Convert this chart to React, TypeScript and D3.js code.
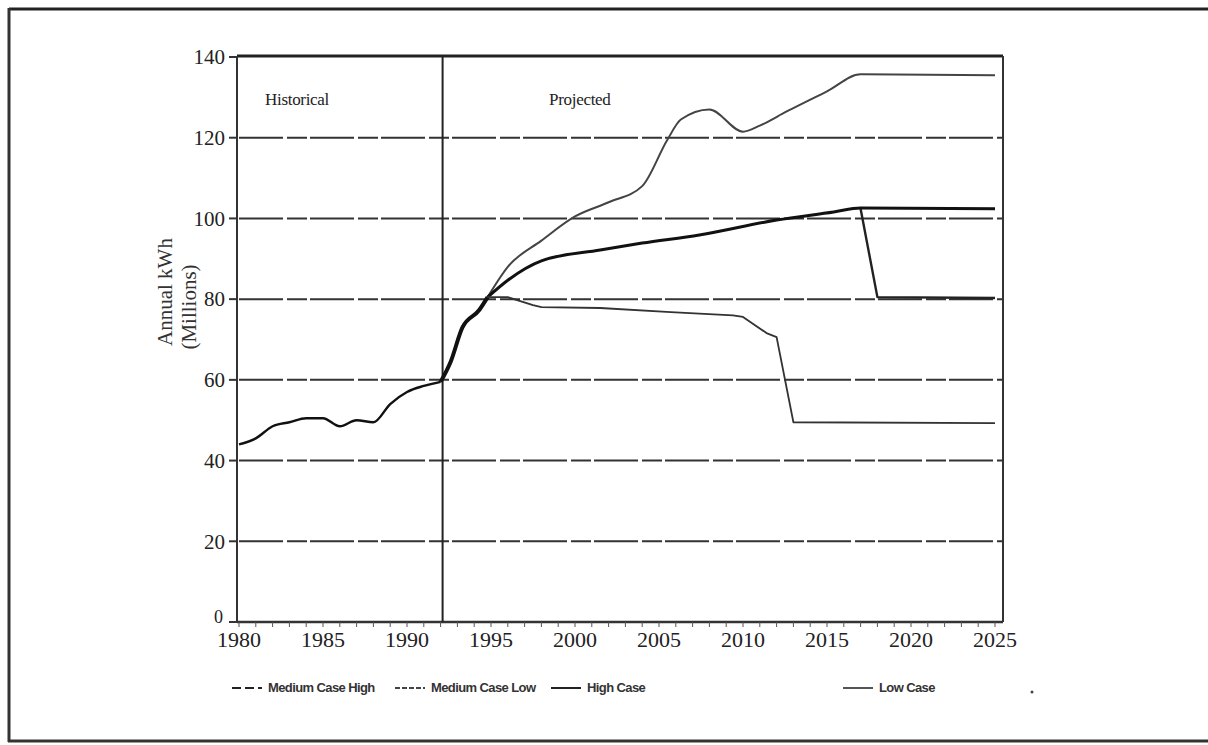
import React from "react";
import * as d3 from "d3";

const histYears = [1980, 1981, 1982, 1983, 1984, 1985, 1986, 1987, 1988, 1989, 1990, 1991, 1992];
const histValues = [44, 45.5, 48.5, 49.5, 50.5, 50.5, 48.5, 50, 49.5, 54, 57, 58.5, 59.5];

const commonYears = [1992, 1992.6, 1993.3, 1994.3, 1994.8];
const commonValues = [59.5, 64.5, 73, 77.3, 80.5];

const highYears = [1996, 1998, 2000, 2002, 2004, 2005.5, 2006.3, 2008, 2010, 2011, 2012.6, 2015, 2017, 2025];
const highValues = [88, 94.5, 100.5, 104, 108, 119.5, 124.5, 127, 121.5, 123, 126.5, 131.5, 135.7, 135.5];

const medHighYears = [1996, 1998, 2001.5, 2004, 2007.4, 2012, 2015.4, 2017, 2025];
const medHighValues = [84.7, 89.5, 92.2, 93.9, 95.9, 99.6, 101.6, 102.6, 102.4];

const medLowYears = [2017, 2018, 2025];
const medLowValues = [102.4, 80.5, 80.3];

const lowYears = [1996, 1997.5, 1998, 2001.5, 2005.7, 2009.4, 2010, 2011.4, 2012, 2013, 2025];
const lowValues = [80.5, 78.5, 78, 77.8, 76.8, 76, 75.6, 71.6, 70.6, 49.5, 49.3];

const yTicks = [0, 20, 40, 60, 80, 100, 120, 140];
const xTicks = [1980, 1985, 1990, 1995, 2000, 2005, 2010, 2015, 2020, 2025];
const legendItems = ["Medium Case High", "Medium Case Low", "High Case", "Low Case"];

export default function App() {
  const left = 239, right = 1003, top = 56, bottom = 622;
  const x = d3.scaleLinear().domain([1980, 2025]).range([left, left + 45 * 16.8]);
  const y = d3.scaleLinear().domain([0, 140]).range([bottom, top + 1]);
  const line = d3.line<[number, number]>().x(d => x(d[0])).y(d => y(d[1])).curve(d3.curveMonotoneX);
  const straight = d3.line<[number, number]>().x(d => x(d[0])).y(d => y(d[1]));
  const zip = (a: number[], b: number[]) => a.map((v, i) => [v, b[i]] as [number, number]);
  const cLast = commonYears.length - 1;
  const common = zip(commonYears, commonValues);
  const lastC: [number, number] = [commonYears[cLast], commonValues[cLast]];

  const serif = "'Liberation Serif', 'DejaVu Serif', serif";
  const sans = "'Liberation Sans', Arial, sans-serif";

  const legendX = [232, 395, 551, 843];
  const legendDash = ["9,4", "5,2", "none", "none"];
  const legendColor = ["#222", "#444", "#222", "#555"];

  return (
    <svg width={1208} height={745} style={{ position: "absolute", left: 0, top: 0, background: "#fff" }}>
      {/* outer frame */}
      <line x1={9} y1={9} x2={1208} y2={9} stroke="#222" strokeWidth={3} />
      <line x1={9} y1={8} x2={9} y2={742} stroke="#333" strokeWidth={3} />
      <line x1={8} y1={741} x2={1208} y2={741} stroke="#333" strokeWidth={3} />

      {/* gridlines */}
      {yTicks.filter(t => t > 0 && t < 140).map(t => (
        <line key={t} x1={left} x2={right} y1={y(t)} y2={y(t)} stroke="#333" strokeWidth={2} strokeDasharray="44,4,20,3" />
      ))}
      {/* plot frame */}
      <line x1={left - 2} x2={right} y1={top} y2={top} stroke="#222" strokeWidth={3} />
      <line x1={left - 2} x2={right} y1={bottom} y2={bottom} stroke="#333" strokeWidth={2.5} />
      <line x1={left - 2} x2={left - 2} y1={top} y2={bottom} stroke="#333" strokeWidth={2} />
      <line x1={right} x2={right} y1={top} y2={bottom} stroke="#333" strokeWidth={2} />
      <line x1={x(1992) + 2} x2={x(1992) + 2} y1={top} y2={bottom} stroke="#222" strokeWidth={2} />

      {/* y ticks */}
      {yTicks.map(t => (
        <g key={t}>
          <line x1={left - 10} x2={left - 2} y1={y(t)} y2={y(t)} stroke="#333" strokeWidth={2} />
          <text x={left - (t === 0 ? 16 : 14)} y={y(t) - (t === 0 ? 5 : 0)} dy="0.35em" textAnchor="end" fontFamily={serif} fontSize={t === 0 ? 18 : 21} fill="#222">{t}</text>
        </g>
      ))}
      {/* x minor ticks */}
      {d3.range(1980, 2026).map(yr => (
        <line key={yr} x1={x(yr)} x2={x(yr)} y1={bottom} y2={bottom + 5} stroke="#555" strokeWidth={1} />
      ))}
      {xTicks.map(t => (
        <text key={t} x={x(t)} y={bottom + 25} textAnchor="middle" fontFamily={serif} fontSize={22} fill="#222">{t}</text>
      ))}

      {/* axis title */}
      <text transform={`translate(172,292) rotate(-90)`} textAnchor="middle" fontFamily={serif} fontSize={21} fill="#333">Annual kWh</text>
      <text transform={`translate(196,307) rotate(-90)`} textAnchor="middle" fontFamily={serif} fontSize={21} fill="#333">(Millions)</text>

      <text x={265} y={105} fontFamily={serif} fontSize={17} fill="#222" letterSpacing={-0.3}>Historical</text>
      <text x={549} y={105} fontFamily={serif} fontSize={17} fill="#222" letterSpacing={-0.3}>Projected</text>

      {/* series */}
      <g fill="none" strokeLinejoin="round">
        <path d={line(zip(histYears, histValues)) || ""} stroke="#111" strokeWidth={2.4} />
        <path d={line(common) || ""} stroke="#111" strokeWidth={4} />
        <path d={line([lastC, ...zip(highYears, highValues)]) || ""} stroke="#444" strokeWidth={2} />
        <path d={straight(zip(medLowYears, medLowValues)) || ""} stroke="#222" strokeWidth={2.4} />
        <path d={line([lastC, ...zip(medHighYears, medHighValues)]) || ""} stroke="#111" strokeWidth={3} />
        <path d={straight([lastC, ...zip(lowYears, lowValues)]) || ""} stroke="#333" strokeWidth={1.8} />
      </g>

      {/* legend */}
      {legendItems.map((name, i) => (
        <g key={name}>
          <line x1={legendX[i]} x2={legendX[i] + 30} y1={688} y2={688} stroke={legendColor[i]} strokeWidth={2} strokeDasharray={legendDash[i]} />
          <text x={legendX[i] + 36} y={692} fontFamily={sans} fontSize={13} fontWeight="bold" fill="#333" letterSpacing={-0.6}>{name}</text>
        </g>
      ))}
      <circle cx={1032} cy={692} r={1.5} fill="#444" />
    </svg>
  );
}
